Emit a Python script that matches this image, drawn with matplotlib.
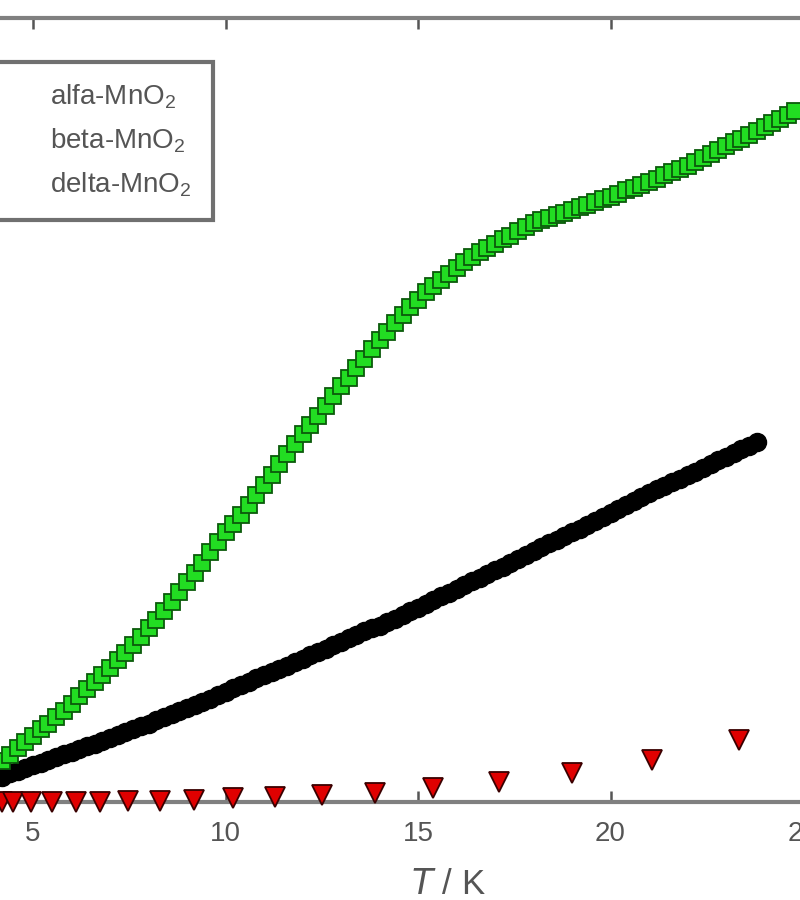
import matplotlib
matplotlib.use("Agg")
import matplotlib.pyplot as plt

plt.rcParams['font.family'] = ['Liberation Sans', 'DejaVu Sans']
plt.rcParams['mathtext.default'] = 'regular'

# temperature grid (K) for the two dense series
t_alfa = [4.2, 4.4, 4.6, 4.8, 5.0, 5.2, 5.4, 5.6, 5.8, 6.0,
          6.2, 6.4, 6.6, 6.8, 7.0, 7.2, 7.4, 7.6, 7.8, 8.0,
          8.2, 8.4, 8.6, 8.8, 9.0, 9.2, 9.4, 9.6, 9.8, 10.0,
          10.2, 10.4, 10.6, 10.8, 11.0, 11.2, 11.4, 11.6, 11.8, 12.0,
          12.2, 12.4, 12.6, 12.8, 13.0, 13.2, 13.4, 13.6, 13.8, 14.0,
          14.2, 14.4, 14.6, 14.8, 15.0, 15.2, 15.4, 15.6, 15.8, 16.0,
          16.2, 16.4, 16.6, 16.8, 17.0, 17.2, 17.4, 17.6, 17.8, 18.0,
          18.2, 18.4, 18.6, 18.8, 19.0, 19.2, 19.4, 19.6, 19.8, 20.0,
          20.2, 20.4, 20.6, 20.8, 21.0, 21.2, 21.4, 21.6, 21.8, 22.0,
          22.2, 22.4, 22.6, 22.8, 23.0, 23.2, 23.4, 23.6, 23.8, 24.0,
          24.2, 24.4, 24.6, 24.8]
c_alfa = [0.42, 0.48, 0.55, 0.61, 0.67, 0.74, 0.80, 0.87, 0.93, 1.00,
          1.08, 1.15, 1.22, 1.30, 1.37, 1.45, 1.52, 1.60, 1.68, 1.77,
          1.86, 1.95, 2.04, 2.14, 2.24, 2.34, 2.44, 2.55, 2.65, 2.75,
          2.84, 2.93, 3.03, 3.13, 3.23, 3.34, 3.45, 3.55, 3.65, 3.75,
          3.85, 3.94, 4.04, 4.14, 4.24, 4.33, 4.43, 4.52, 4.62, 4.71,
          4.80, 4.89, 4.97, 5.05, 5.12, 5.20, 5.27, 5.33, 5.39, 5.45,
          5.51, 5.56, 5.61, 5.65, 5.69, 5.74, 5.78, 5.83, 5.87, 5.91,
          5.94, 5.96, 5.99, 6.01, 6.04, 6.07, 6.09, 6.12, 6.15, 6.17,
          6.20, 6.24, 6.27, 6.30, 6.33, 6.36, 6.40, 6.43, 6.46, 6.49,
          6.53, 6.57, 6.61, 6.65, 6.69, 6.73, 6.77, 6.81, 6.85, 6.89,
          6.93, 6.97, 7.01, 7.05]

t_beta = [4.2, 4.4, 4.6, 4.8, 5.0, 5.2, 5.4, 5.6, 5.8, 6.0,
          6.2, 6.4, 6.6, 6.8, 7.0, 7.2, 7.4, 7.6, 7.8, 8.0,
          8.2, 8.4, 8.6, 8.8, 9.0, 9.2, 9.4, 9.6, 9.8, 10.0,
          10.2, 10.4, 10.6, 10.8, 11.0, 11.2, 11.4, 11.6, 11.8, 12.0,
          12.2, 12.4, 12.6, 12.8, 13.0, 13.2, 13.4, 13.6, 13.8, 14.0,
          14.2, 14.4, 14.6, 14.8, 15.0, 15.2, 15.4, 15.6, 15.8, 16.0,
          16.2, 16.4, 16.6, 16.8, 17.0, 17.2, 17.4, 17.6, 17.8, 18.0,
          18.2, 18.4, 18.6, 18.8, 19.0, 19.2, 19.4, 19.6, 19.8, 20.0,
          20.2, 20.4, 20.6, 20.8, 21.0, 21.2, 21.4, 21.6, 21.8, 22.0,
          22.2, 22.4, 22.6, 22.8, 23.0, 23.2, 23.4, 23.6, 23.8]
c_beta = [0.25, 0.29, 0.32, 0.35, 0.38, 0.40, 0.43, 0.46, 0.49, 0.51,
          0.54, 0.57, 0.59, 0.62, 0.65, 0.68, 0.71, 0.74, 0.77, 0.80,
          0.84, 0.87, 0.90, 0.93, 0.96, 0.99, 1.02, 1.05, 1.09, 1.12,
          1.16, 1.19, 1.22, 1.26, 1.29, 1.33, 1.36, 1.39, 1.43, 1.46,
          1.50, 1.53, 1.56, 1.60, 1.63, 1.67, 1.70, 1.74, 1.77, 1.80,
          1.84, 1.87, 1.91, 1.95, 1.98, 2.02, 2.06, 2.10, 2.13, 2.17,
          2.21, 2.25, 2.29, 2.33, 2.37, 2.40, 2.44, 2.48, 2.52, 2.56,
          2.60, 2.64, 2.67, 2.71, 2.75, 2.79, 2.83, 2.87, 2.91, 2.95,
          2.99, 3.03, 3.07, 3.11, 3.15, 3.19, 3.22, 3.26, 3.30, 3.34,
          3.37, 3.41, 3.45, 3.49, 3.52, 3.56, 3.60, 3.63, 3.67]

t_delta = [4.2, 4.48, 4.95, 5.49, 6.12, 6.74, 7.47, 8.30, 9.18,
           10.19, 11.29, 12.51, 13.88, 15.39, 17.10, 19.00, 21.08, 23.34]
c_delta = [0.0, 0.0, 0.0, 0.0, 0.0, 0.0, 0.01, 0.01, 0.02,
           0.04, 0.05, 0.07, 0.09, 0.14, 0.20, 0.30, 0.43, 0.63]

labels = ['alfa-MnO$_2$', 'beta-MnO$_2$', 'delta-MnO$_2$']
x_ticks = [5, 10, 15, 20, 25]

fig = plt.figure(figsize=(8, 9), dpi=100)
# axes deliberately wider than the figure: left and right sides are cropped
ax = fig.add_axes([-0.055, 0.109, 1.155, 0.871])

ax.plot(t_delta, c_delta, linestyle='none', marker='v', ms=14,
        mfc='#e00000', mec='#3a0000', mew=1.3, clip_on=False, zorder=3)
ax.plot(t_beta, c_beta, linestyle='none', marker='o', ms=13,
        mfc='black', mec='black', zorder=4)
ax.plot(t_alfa, c_alfa, linestyle='none', marker='s', ms=11,
        mfc='#22dd22', mec='#0b5a0b', mew=1.3, zorder=5)

ax.set_xlim(3, 27)
ax.set_ylim(0, 8)
ax.set_xticks(x_ticks)
ax.set_yticks([])
ax.tick_params(axis='x', direction='in', top=True, length=8, width=1.8,
               color='#555555', labelsize=20, labelcolor='#555555', pad=14)
for s in ax.spines.values():
    s.set_color('#808080')
    s.set_linewidth(3)

fig.text(448 / 800, 1 - 885 / 900, '$\\mathit{T}$ / K', fontsize=25,
         color='#555555', ha='center', va='center')

# legend markers sit left of the cropped edge, as in the source figure
handles = ax.get_lines()
leg = ax.legend([handles[2], handles[1], handles[0]], labels,
                loc='upper right', bbox_to_anchor=(213 / 800, 1 - 62 / 900),
                bbox_transform=fig.transFigure, borderaxespad=0,
                fontsize=20, labelcolor='#555555',
                frameon=True, fancybox=False, framealpha=1, edgecolor='#707070',
                borderpad=0.75, labelspacing=0.55, handletextpad=2.8)
leg.get_frame().set_linewidth(3)

fig.savefig('out.png', dpi=100)
